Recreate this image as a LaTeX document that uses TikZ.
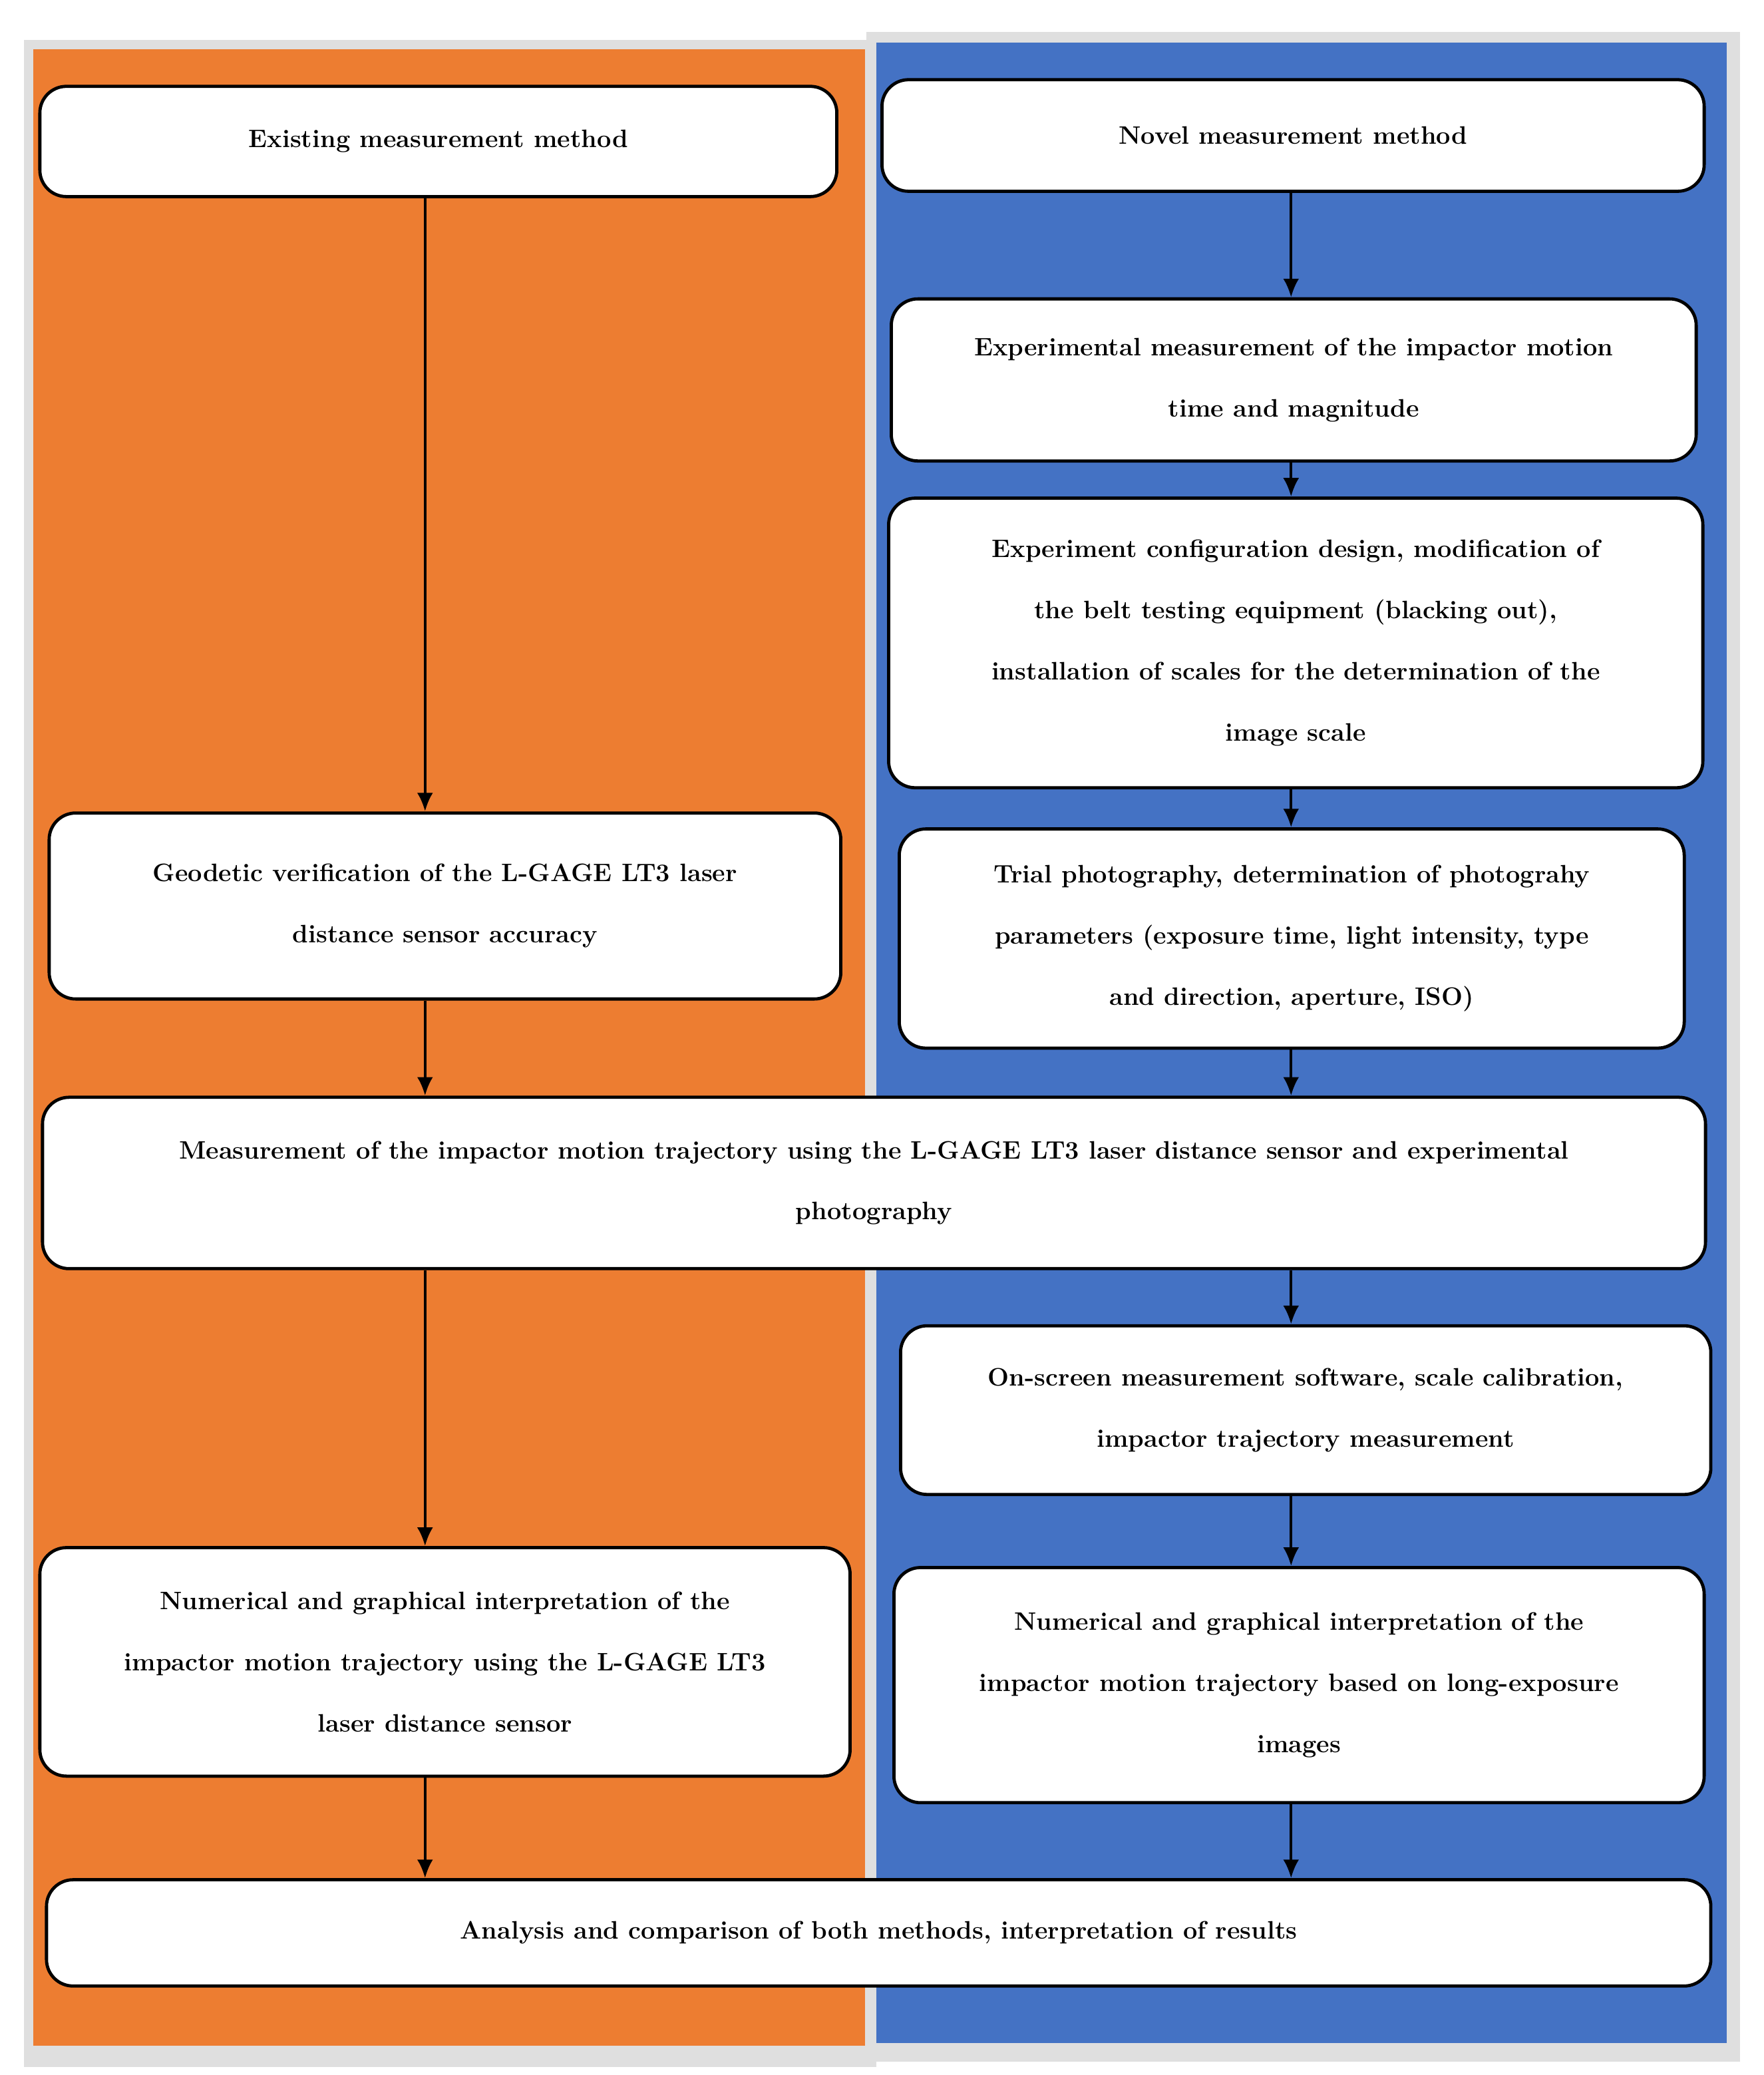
\documentclass[tikz,border=0pt]{standalone}
\usetikzlibrary{arrows.meta}
\begin{document}
\begin{tikzpicture}[x=1pt,y=-1pt,
  box/.style={draw=black,line width=2.4pt,fill=white,rounded corners=20pt,align=center,
    inner sep=0pt,font=\fontsize{19}{46}\selectfont\bfseries},
  arr/.style={line width=2pt,-{Latex[length=14pt,width=12pt]}}]
\useasboundingbox (0,0) rectangle (1328,1562);
\fill[white] (0,0) rectangle (1328,1562);
\fill[gray!25] (18,30) rectangle (660,1556);
\fill[gray!25] (652,24) rectangle (1310,1552);
\fill[orange!75!red!65!yellow, fill={rgb,255:red,237;green,125;blue,49}] (25,37) rectangle (651,1540);
\fill[fill={rgb,255:red,68;green,114;blue,196}] (660,32) rectangle (1300,1538);
\newcommand{\bx}[6]{\node[box,minimum width=#4-#2,minimum height=#5-#3] (#1) at ({(#2+#4)/2},{(#3+#5)/2}) {#6};}
\bx{ex}{30}{65}{630}{148}{Existing measurement method}
\bx{nov}{664}{60}{1283}{144}{Novel measurement method}
\bx{exp}{671}{225}{1277}{347}{Experimental measurement of the impactor motion\\time and magnitude}
\bx{cfg}{669}{375}{1282}{593}{Experiment configuration design, modification of\\the belt testing equipment (blacking out),\\installation of scales for the determination of the\\image scale}
\bx{tri}{677}{624}{1268}{789}{Trial photography, determination of photograhy\\parameters (exposure time, light intensity, type\\and direction, aperture, ISO)}
\bx{geo}{37}{612}{633}{752}{Geodetic verification of the L-GAGE LT3 laser\\distance sensor accuracy}
\bx{mea}{32}{826}{1284}{955}{Measurement of the impactor motion trajectory using the L-GAGE LT3 laser distance sensor and experimental\\photography}
\bx{ons}{678}{998}{1288}{1125}{On-screen measurement software, scale calibration,\\impactor trajectory measurement}
\bx{nl}{30}{1165}{640}{1337}{Numerical and graphical interpretation of the\\impactor motion trajectory using the L-GAGE LT3\\laser distance sensor}
\bx{nr}{673}{1180}{1283}{1357}{Numerical and graphical interpretation of the\\impactor motion trajectory based on long-exposure\\images}
\bx{ana}{35}{1415}{1288}{1495}{Analysis and comparison of both methods, interpretation of results}
\coordinate (L) at (320,0);
\coordinate (R) at (972,0);
\draw[arr] (ex.south -| L) -- (geo.north -| L);
\draw[arr] (geo.south -| L) -- (mea.north -| L);
\draw[arr] (mea.south -| L) -- (nl.north -| L);
\draw[arr] (nl.south -| L) -- (ana.north -| L);
\draw[arr] (nov.south -| R) -- (exp.north -| R);
\draw[arr] (exp.south -| R) -- (cfg.north -| R);
\draw[arr] (cfg.south -| R) -- (tri.north -| R);
\draw[arr] (tri.south -| R) -- (mea.north -| R);
\draw[arr] (mea.south -| R) -- (ons.north -| R);
\draw[arr] (ons.south -| R) -- (nr.north -| R);
\draw[arr] (nr.south -| R) -- (ana.north -| R);
\end{tikzpicture}
\end{document}
